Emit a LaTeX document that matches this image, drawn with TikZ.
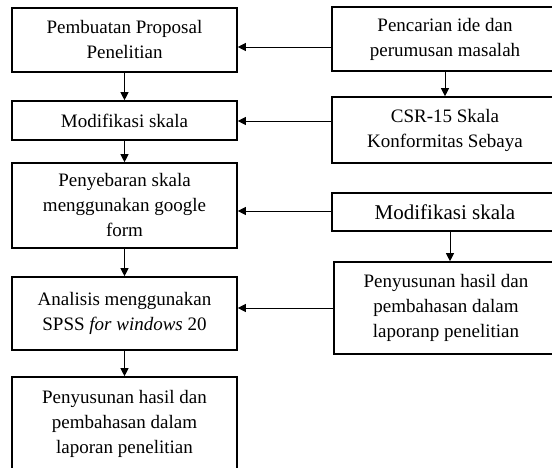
\documentclass[tikz,border=0pt]{standalone}
\usepackage{fontspec}
\setmainfont{Liberation Serif}
\usetikzlibrary{arrows.meta}
\begin{document}
\begin{tikzpicture}[x=1pt,y=-1pt,
  box/.style={draw, line width=1.6pt, inner sep=0pt, align=center,
    font=\fontsize{19}{25}\selectfont, fill=white},
  arr/.style={line width=0.8pt, -{Triangle[length=8pt,width=8pt]}}]
\useasboundingbox (0,0) rectangle (552,468);
\clip (0,0) rectangle (552,468);
% left column
\node[box, minimum width=225pt, minimum height=64pt] (L1) at (124.5,40) {Pembuatan Proposal\\Penelitian};
\node[box, minimum width=225pt, minimum height=39pt] (L2) at (124.5,120.5) {Modifikasi skala};
\node[box, minimum width=225pt, minimum height=85pt] (L3) at (124.5,205.5) {Penyebaran skala\\menggunakan google\\form};
\node[box, minimum width=225pt, minimum height=73pt] (L4) at (124.5,313.5) {Analisis menggunakan\\SPSS \textit{for windows} 20};
\node[box, minimum width=225pt, minimum height=93pt] (L5) at (124.5,423.5) {Penyusunan hasil dan\\pembahasan dalam\\laporan penelitian};
% right column
\node[box, minimum width=226pt, minimum height=64pt] (R1) at (445,39) {Pencarian ide dan\\perumusan masalah};
\node[box, minimum width=226pt, minimum height=66pt] (R2) at (445,130) {CSR-15 Skala\\Konformitas Sebaya};
\node[box, minimum width=226pt, minimum height=38pt, font=\fontsize{21}{25}\selectfont] (R3) at (445,212) {Modifikasi skala};
\node[box, minimum width=224pt, minimum height=92pt] (R4) at (446,308) {Penyusunan hasil dan\\pembahasan dalam\\laporanp penelitian};
% helper levels for horizontal arrows
\coordinate (h1) at (0,47);
\coordinate (h2) at (0,121);
\coordinate (h3) at (0,211);
\coordinate (h4) at (0,308);
% vertical arrows
\draw[arr] (L1.south) -- (L2.north);
\draw[arr] (L2.south) -- (L3.north);
\draw[arr] (L3.south) -- (L4.north);
\draw[arr] (L4.south) -- (L5.north);
\draw[arr] (R1.south) -- (R2.north);
\draw[arr] ([xshift=5pt]R3.south) -- ([xshift=4pt]R4.north);
% horizontal arrows
\draw[arr] (R1.west |- h1) -- (L1.east |- h1);
\draw[arr] (R2.west |- h2) -- (L2.east |- h2);
\draw[arr] (R3.west |- h3) -- (L3.east |- h3);
\draw[arr] (R4.west |- h4) -- (L4.east |- h4);
\end{tikzpicture}
\end{document}
